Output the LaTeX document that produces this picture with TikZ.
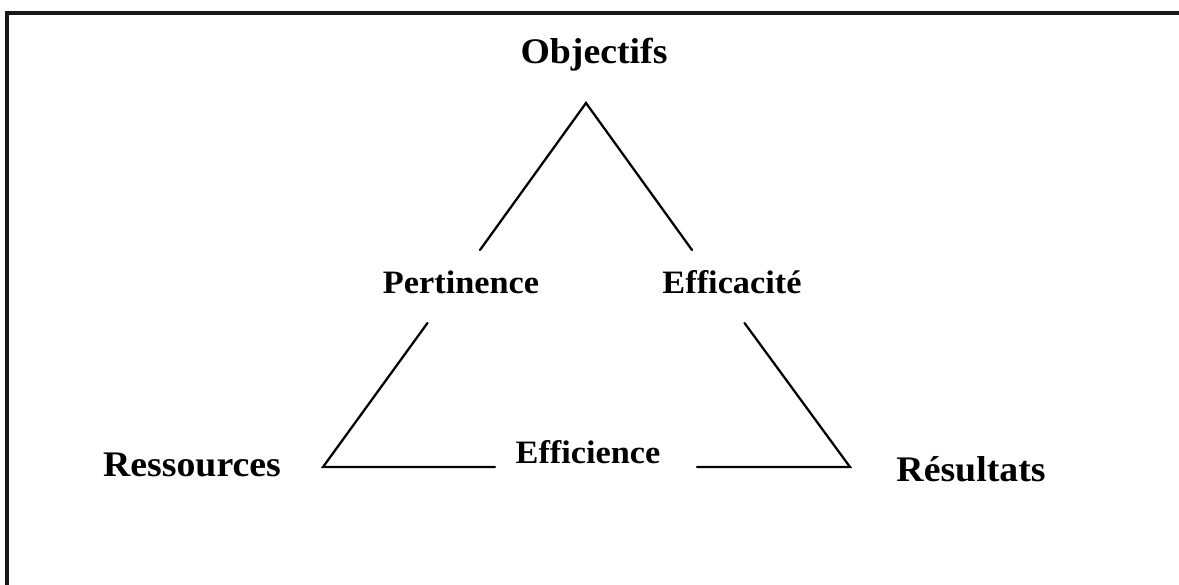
\documentclass[tikz,border=0pt]{standalone}
\usepackage{fontspec}
\setmainfont[FakeStretch=1.05]{Liberation Serif}
\begin{document}
\begin{tikzpicture}[x=0.75pt,y=-0.75pt,
  frameline/.style={line width=2.4pt,draw=black!90},
  side/.style={line width=1.7pt,line cap=round},
  biglabel/.style={font=\bfseries\fontsize{27}{30}\selectfont,anchor=base,inner sep=0pt},
  smalllabel/.style={font=\bfseries\fontsize{24.5}{28}\selectfont,anchor=base,inner sep=0pt}]
  \useasboundingbox (0,0) rectangle (1179,585);
  \clip (0,0) rectangle (1179,585);
  % open frame: top and left edges only
  \draw[frameline] (1190,13) -- (7,13) -- (7,595);

  % corner labels
  \node[biglabel] (obj) at (594,64) {Objectifs};
  \node[biglabel] (res) at (192,476) {Ressources};
  \node[biglabel] (rst) at (971,481) {Résultats};
  % side labels
  \node[smalllabel] (pert) at (461,293) {Pertinence};
  \node[smalllabel] (effa) at (732,293) {Efficacité};
  \node[smalllabel] (effi) at (588,463) {Efficience};

  % triangle corners and the gaps left for the side labels
  \coordinate (apex) at (586,103);
  \coordinate (lc) at (323,467);
  \coordinate (rc) at (850,467);
  \coordinate (l1) at (480,250);
  \coordinate (l2) at (427.5,323);
  \coordinate (r1) at (692,250);
  \coordinate (r2) at (744.5,323);
  \coordinate (b1) at (495,467);
  \coordinate (b2) at (697,467);

  \draw[side] (l1) -- (apex) -- (r1);
  \draw[side] (l2) -- (lc) -- (b1);
  \draw[side] (r2) -- (rc) -- (b2);
\end{tikzpicture}
\end{document}
